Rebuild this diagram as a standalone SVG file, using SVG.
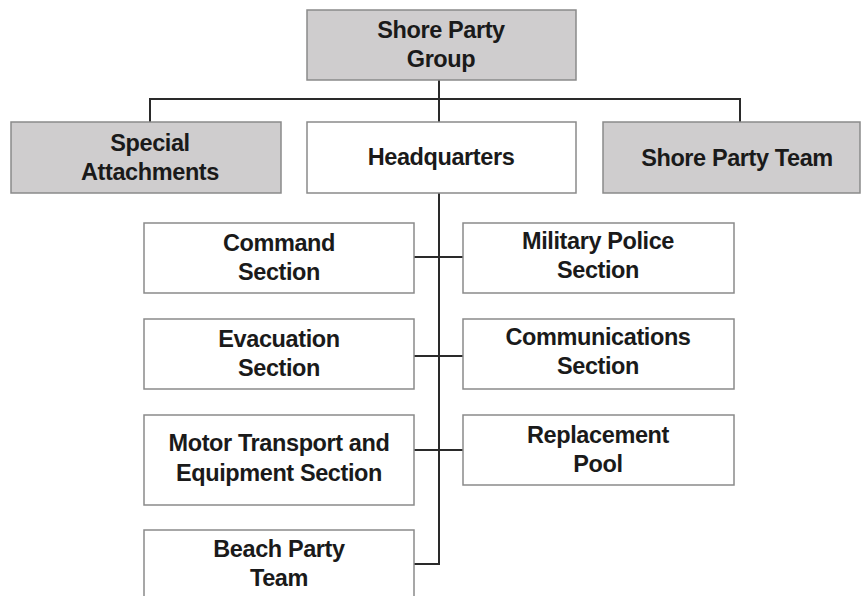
<svg xmlns="http://www.w3.org/2000/svg" width="861" height="596" viewBox="0 0 861 596">
<style>
.box{stroke:#8a8a8a;stroke-width:1.5}
.g{fill:#cfcdce}
.w{fill:#ffffff}
text{font-family:"Liberation Sans",Arial,sans-serif;font-weight:bold;font-size:23.5px;fill:#1a1a1a;text-anchor:middle;letter-spacing:-0.4px}
.c{stroke:#2a2a2a;stroke-width:2;fill:none}
</style>
<rect width="861" height="596" fill="#ffffff"/>
<g id="connectors">
<path class="c" d="M439 80V122M150 99H740M150 98V122M740 98V122"/>
<path class="c" d="M439 193V564H414"/>
<path class="c" d="M414 257H463M414 356H463M414 450H463"/>
</g>
<g id="shore-party-group"><rect class="box g" x="307" y="10" width="269" height="70"/><text x="441" y="38">Shore Party</text><text x="441" y="67">Group</text></g>
<g id="special-attachments"><rect class="box g" x="11" y="122" width="270" height="71"/><text x="150" y="151">Special</text><text x="150" y="180">Attachments</text></g>
<g id="headquarters"><rect class="box w" x="307" y="122" width="269" height="71"/><text x="441" y="165">Headquarters</text></g>
<g id="shore-party-team"><rect class="box g" x="603" y="122" width="257" height="71"/><text x="737" y="166">Shore Party Team</text></g>
<g id="command-section"><rect class="box w" x="144" y="223" width="270" height="70"/><text x="279" y="251">Command</text><text x="279" y="280">Section</text></g>
<g id="military-police-section"><rect class="box w" x="463" y="223" width="271" height="70"/><text x="598" y="249">Military Police</text><text x="598" y="278">Section</text></g>
<g id="evacuation-section"><rect class="box w" x="144" y="319" width="270" height="70"/><text x="279" y="347">Evacuation</text><text x="279" y="376">Section</text></g>
<g id="communications-section"><rect class="box w" x="463" y="319" width="271" height="70"/><text x="598" y="345">Communications</text><text x="598" y="374">Section</text></g>
<g id="motor-transport"><rect class="box w" x="144" y="415" width="270" height="90"/><text x="279" y="451">Motor Transport and</text><text x="279" y="481">Equipment Section</text></g>
<g id="replacement-pool"><rect class="box w" x="463" y="415" width="271" height="70"/><text x="598" y="443">Replacement</text><text x="598" y="472">Pool</text></g>
<g id="beach-party-team"><rect class="box w" x="144" y="530" width="270" height="80"/><text x="279" y="557">Beach Party</text><text x="279" y="586">Team</text></g>
</svg>
